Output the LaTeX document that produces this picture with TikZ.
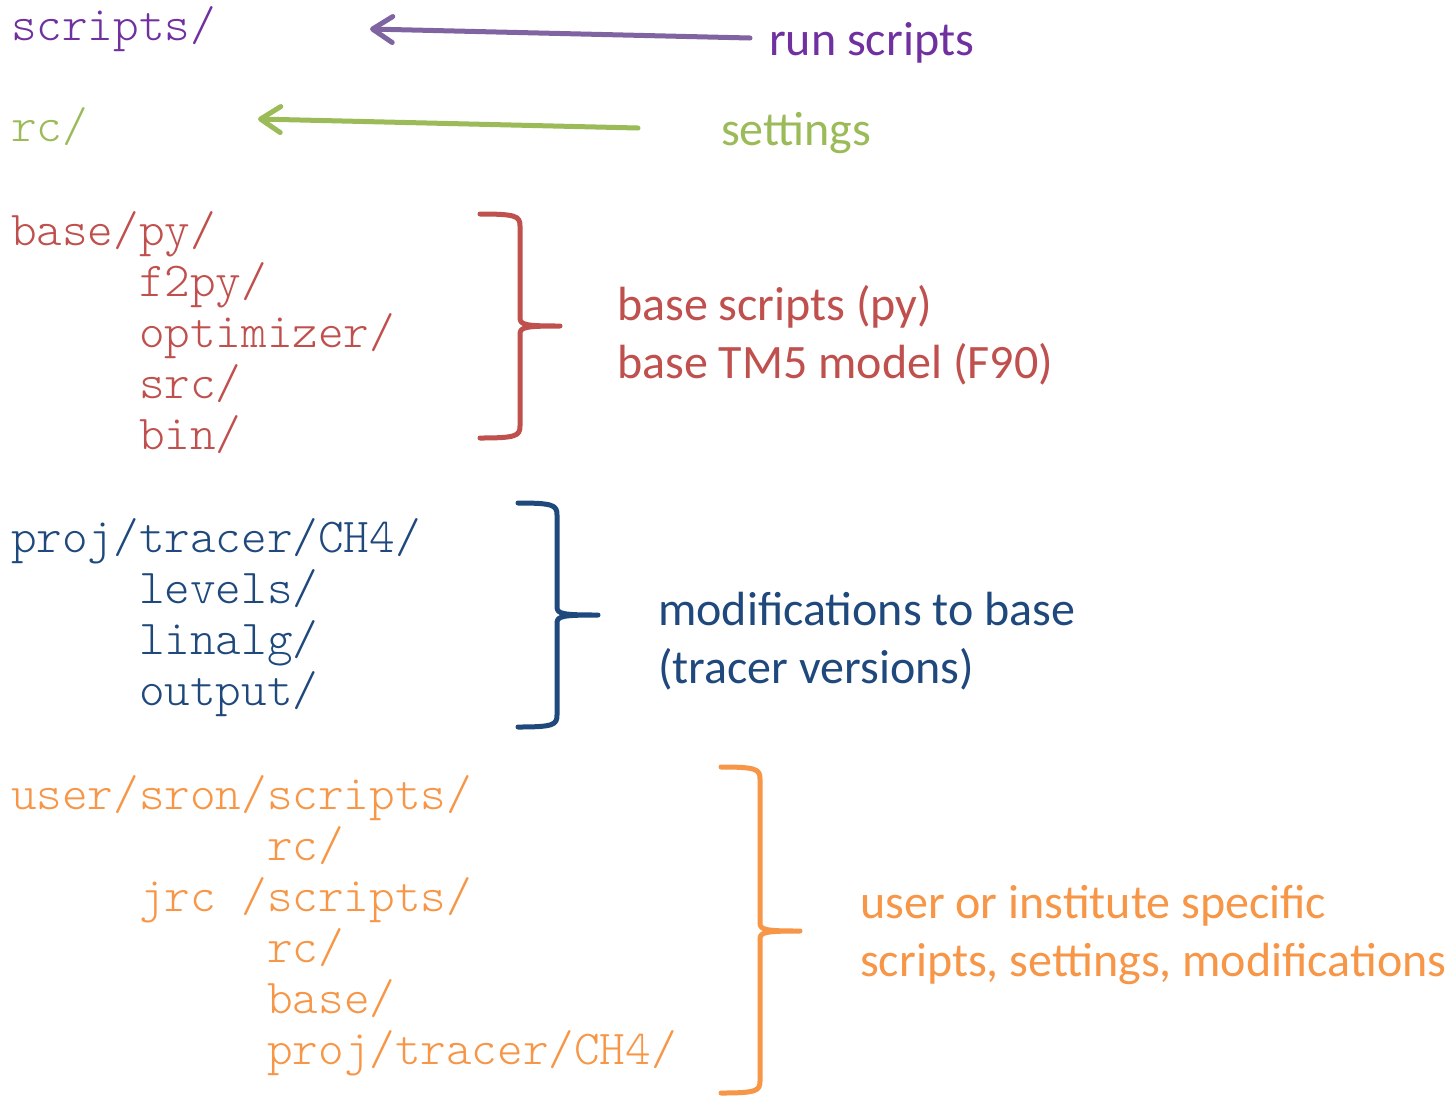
\documentclass[tikz,border=0pt]{standalone}
\usepackage{fontspec}
\setmainfont{Carlito}
\newfontfamily\treefont{Latin Modern Mono Light}
\usetikzlibrary{arrows.meta}

\definecolor{runpurple}{HTML}{7030A0}
\definecolor{arrowpurple}{HTML}{8064A2}
\definecolor{setgreen}{HTML}{9BBB59}
\definecolor{basered}{HTML}{C0504D}
\definecolor{projblue}{HTML}{1F497D}
\definecolor{userorange}{HTML}{F79646}

\tikzset{
  dir/.style={anchor=base west, inner sep=0pt, font=\treefont\fontsize{48.76}{48.76}\selectfont},
  lbl/.style={anchor=base west, inner sep=0pt, font=\fontsize{48}{48}\selectfont},
  pointer/.style={line width=5pt, line cap=round, line join=round,
    -{Straight Barb[length=20pt,width=26pt,line cap=round,line join=round]}},
  bracestroke/.style={line width=5pt, line cap=round, line join=round}
}

% brace: colour, x of open ends, x of spine, x of tip, top y, middle y, bottom y
\newcommand{\curlybrace}[7]{%
  \draw[bracestroke, #1] (#2,#5) .. controls (#3-4,#5) and (#3,#5+2) .. (#3,#5+12)
    -- (#3,#6-8) .. controls (#3,#6-1) and (#3+6,#6) .. (#4,#6)
    .. controls (#3+6,#6) and (#3,#6+1) .. (#3,#6+8)
    -- (#3,#7-12) .. controls (#3,#7-2) and (#3-4,#7) .. (#2,#7);%
}

\begin{document}
\begin{tikzpicture}[x=1pt,y=-1pt]
\useasboundingbox[fill=white] (0,0) rectangle (1455,1096);

% column grid of the directory listing
\def\cw{25.6}
\def\xo{11}

% top-level folders
\node[dir, text=runpurple] (scripts) at (\xo,40) {scripts/};
\node[dir, text=setgreen] (rc) at (\xo,141) {rc/};

% base
\node[dir, text=basered] (base) at (\xo,245) {base/py/};
\node[dir, text=basered] (f2py) at (\xo+5*\cw,296) {f2py/};
\node[dir, text=basered] (opt) at (\xo+5*\cw,347) {optimizer/};
\node[dir, text=basered] (src) at (\xo+5*\cw,398) {src/};
\node[dir, text=basered] (bin) at (\xo+5*\cw,449) {bin/};

% project
\node[dir, text=projblue] (proj) at (\xo,552) {proj/tracer/CH4/};
\node[dir, text=projblue] (levels) at (\xo+5*\cw,603) {levels/};
\node[dir, text=projblue] (linalg) at (\xo+5*\cw,654) {linalg/};
\node[dir, text=projblue] (output) at (\xo+5*\cw,705) {output/};

% user
\node[dir, text=userorange] (user) at (\xo,809) {user/sron/scripts/};
\node[dir, text=userorange] (urc) at (\xo+10*\cw,860) {rc/};
\node[dir, text=userorange] (jrc) at (\xo+5*\cw,911) {jrc /scripts/};
\node[dir, text=userorange] (jrcrc) at (\xo+10*\cw,962) {rc/};
\node[dir, text=userorange] (jbase) at (\xo+10*\cw,1013) {base/};
\node[dir, text=userorange] (jproj) at (\xo+10*\cw,1064) {proj/tracer/CH4/};

% labels
\node[lbl, text=runpurple] (lrun) at (769,55) {run scripts};
\node[lbl, text=setgreen] (lset) at (721,145) {settings};
\node[lbl, text=basered] (lbase1) at (617,320) {base scripts (py)};
\node[lbl, text=basered] (lbase2) at (617,378) {base TM5 model (F90)};
\node[lbl, text=projblue] (lproj1) at (658,625) {modifications to base};
\node[lbl, text=projblue] (lproj2) at (658,683) {(tracer versions)};
\node[lbl, text=userorange] (luser1) at (860,918) {user or institute specific};
\node[lbl, text=userorange] (luser2) at (860,976) {scripts, settings, modifications};

% pointers
\coordinate (runtail) at (750,38);
\coordinate (runhead) at (370,29);
\coordinate (settail) at (638,128);
\coordinate (sethead) at (258,119);
\draw[pointer, arrowpurple] (runtail) -- (runhead);
\draw[pointer, setgreen] (settail) -- (sethead);

% braces
\curlybrace{basered}{480}{520}{560}{214}{326}{438}
\curlybrace{projblue}{518}{557}{598}{503}{615}{727}
\curlybrace{userorange}{721}{760}{800}{767}{931}{1093}
\end{tikzpicture}
\end{document}
